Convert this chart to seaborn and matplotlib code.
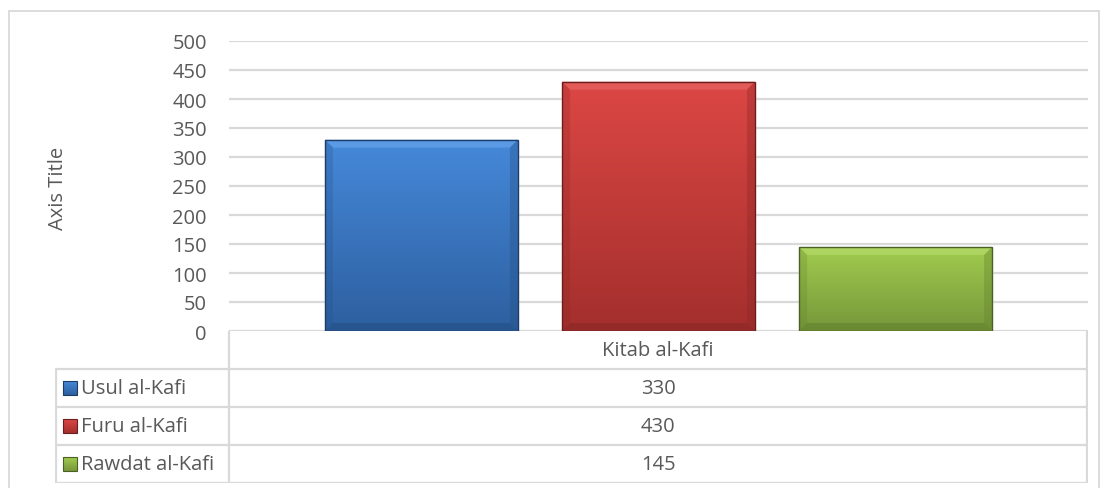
import numpy as np
import pandas as pd
import matplotlib.pyplot as plt
import seaborn as sns
from matplotlib.colors import LinearSegmentedColormap
from matplotlib.patches import Rectangle, Polygon

# Data
category = ['Kitab al-Kafi']
series = ['Usul al-Kafi', 'Furu al-Kafi', 'Rawdat al-Kafi']
values = [330, 430, 145]
yticks = [0, 50, 100, 150, 200, 250, 300, 350, 400, 450, 500]

# Office-like colours (top of gradient, bottom of gradient, edge)
mid_colors = ['#3b76c0', '#c23d3a', '#8cb543']
top_colors = ['#4689da', '#dc4744', '#a1cc4f']
bottom_colors = ['#2d5f9f', '#a32f2d', '#76973a']
light_colors = ['#6aa6ee', '#e86a67', '#b9de70']
dark_colors = ['#244f86', '#8a2725', '#62802e']
edge_colors = ['#1d3c66', '#6b1e1d', '#4a6024']
text_color = '#595959'
line_color = '#d9d9d9'

sns.set_style('white')
plt.rcParams['font.family'] = ['Open Sans', 'DejaVu Sans']
fs = 14.5

W, H = 1101, 489
fig = plt.figure(figsize=(W / 100, H / 100), dpi=100)


def px(l, t, r, b):
    return [l / W, 1 - b / H, (r - l) / W, (b - t) / H]


# outer chart border
fig.add_artist(Rectangle((9 / W, -0.01), (1099 - 9) / W, 1 - 12 / H + 0.01,
                         transform=fig.transFigure, fill=False,
                         edgecolor=line_color, lw=1.3))

ax = fig.add_axes(px(229, 42, 1088, 332))
df = pd.DataFrame({'cat': category * len(series), 'series': series, 'value': values})
sns.barplot(data=df, x='cat', y='value', hue='series', hue_order=series,
            palette=mid_colors, saturation=1, width=0.828, gap=0.186,
            legend=False, ax=ax, zorder=3)

# bevel thickness in data units (about 8 px)
bx = 8 / 859
by = 8 / 290 * 500

# gradient fill and bevel on each bar
for i, patch in enumerate(list(ax.patches)):
    x0, y0 = patch.get_x(), patch.get_y()
    w, h = patch.get_width(), patch.get_height()
    cmap = LinearSegmentedColormap.from_list('g', [bottom_colors[i], top_colors[i]])
    grad = np.linspace(0, 1, 256).reshape(-1, 1)
    im = ax.imshow(grad, extent=[x0, x0 + w, y0, y0 + h], origin='lower',
                   aspect='auto', cmap=cmap, zorder=4)
    im.set_clip_path(patch)
    x1, y1 = x0 + w, y0 + h
    # top highlight
    ax.add_patch(Polygon([(x0, y1), (x1, y1), (x1 - bx, y1 - by), (x0 + bx, y1 - by)],
                         closed=True, facecolor=light_colors[i], alpha=0.6, lw=0, zorder=5))
    # bottom shade
    ax.add_patch(Polygon([(x0, y0), (x1, y0), (x1 - bx, y0 + by), (x0 + bx, y0 + by)],
                         closed=True, facecolor=dark_colors[i], alpha=0.6, lw=0, zorder=5))
    # side shades
    ax.add_patch(Polygon([(x0, y0), (x0, y1), (x0 + bx, y1 - by), (x0 + bx, y0 + by)],
                         closed=True, facecolor=dark_colors[i], alpha=0.25, lw=0, zorder=5))
    ax.add_patch(Polygon([(x1, y0), (x1, y1), (x1 - bx, y1 - by), (x1 - bx, y0 + by)],
                         closed=True, facecolor=dark_colors[i], alpha=0.35, lw=0, zorder=5))
    ax.add_patch(Rectangle((x0, y0), w, h, fill=False, edgecolor=edge_colors[i],
                           lw=1.0, zorder=6))

ax.set_xlim(-0.5, 0.5)
ax.set_ylim(0, 500)
ax.set_yticks(yticks)
ax.set_xticks([])
ax.set_xlabel('')
ax.set_ylabel('')
ax.yaxis.grid(True, color=line_color, lw=1.6, zorder=0)
ax.set_axisbelow(True)
for s in ax.spines.values():
    s.set_visible(False)
ax.tick_params(axis='y', length=0, pad=16, labelsize=fs, labelcolor=text_color)
fig.text(58 / W, 1 - 188 / H, 'Axis Title', rotation=90, ha='center', va='center',
         fontsize=fs, color=text_color)

# data table below the axis
tab = fig.add_axes(px(55, 332, 1088, 484))
tab.set_xlim(55, 1088)
tab.set_ylim(484, 332)
tab.axis('off')
rows = [370, 408, 446, 484]
tab.plot([229, 229], [332, 484], color=line_color, lw=1.6)
tab.plot([1087, 1087], [332, 484], color=line_color, lw=1.6)
tab.plot([56, 56], [370, 484], color=line_color, lw=1.6)
for r in rows:
    tab.plot([55, 1088], [r, r], color=line_color, lw=1.6)
tab.text(658, 351, category[0], ha='center', va='center', fontsize=fs, color=text_color)
for i, (name, val) in enumerate(zip(series, values)):
    yc = (rows[i] + rows[i + 1]) / 2
    cmap = LinearSegmentedColormap.from_list('g', [bottom_colors[i], top_colors[i]])
    tab.imshow(np.linspace(0, 1, 64).reshape(-1, 1), extent=[63, 77, yc + 7, yc - 7],
               origin='lower', aspect='auto', cmap=cmap)
    tab.add_patch(Rectangle((63, yc - 7), 14, 14, fill=False, edgecolor=edge_colors[i], lw=0.8))
    tab.text(81, yc, name, ha='left', va='center', fontsize=fs, color=text_color)
    tab.text(658, yc, str(val), ha='center', va='center', fontsize=fs, color=text_color)
tab.set_xlim(55, 1088)
tab.set_ylim(484, 332)

fig.savefig('out.png', dpi=100)
